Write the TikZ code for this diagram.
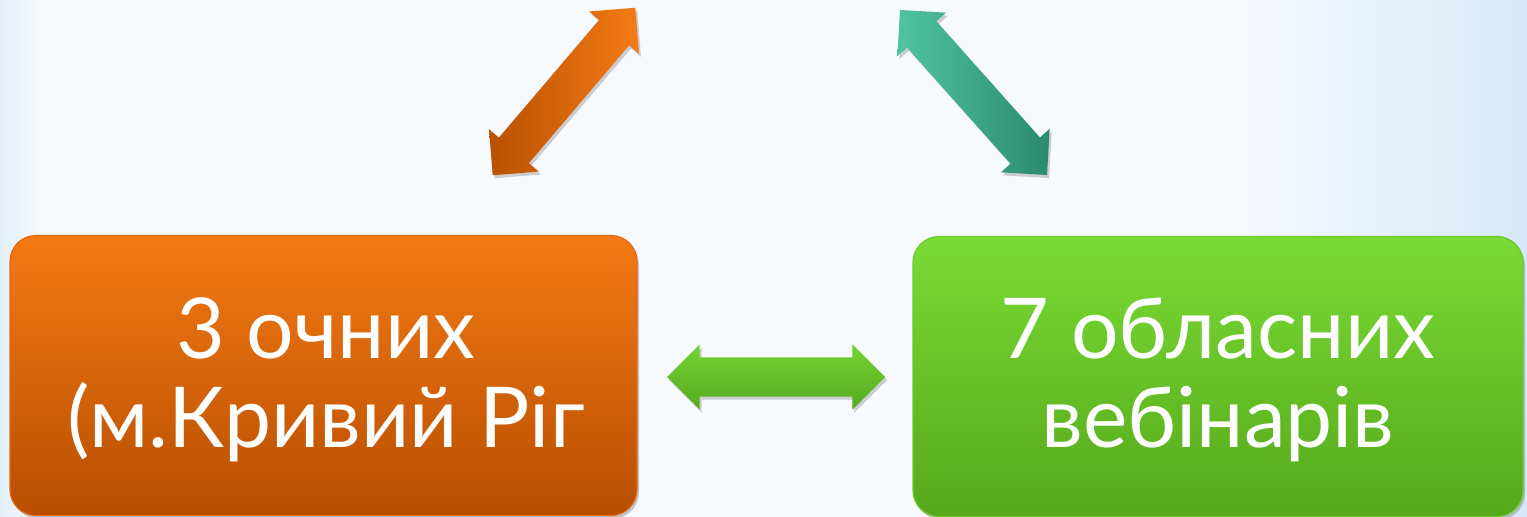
\documentclass[tikz,border=0pt]{standalone}
\usepackage{fontspec}
\setmainfont{Lato}
\usetikzlibrary{shapes.arrows,shadows}
\definecolor{bgA}{HTML}{F6F9FD}
\definecolor{bgB}{HTML}{D6E9F8}
\definecolor{orTop}{HTML}{F37A14}
\definecolor{orBot}{HTML}{B84E00}
\definecolor{orEdge}{HTML}{E06A10}
\definecolor{grTop}{HTML}{7ADB35}
\definecolor{grBot}{HTML}{55A81A}
\definecolor{grEdge}{HTML}{6CCB2A}
\definecolor{orLight}{HTML}{F47B16}
\definecolor{orDark}{HTML}{B95000}
\definecolor{tlLight}{HTML}{50C4A0}
\definecolor{tlDark}{HTML}{2A8A6E}
\definecolor{gaTop}{HTML}{74D432}
\definecolor{gaBot}{HTML}{55AA1E}
\tikzset{
  boxbase/.style={rounded corners=26pt, minimum width=627pt, minimum height=280pt,
    inner sep=0pt, line width=1.2pt,
    drop shadow={shadow xshift=2pt, shadow yshift=-3pt, opacity=0.35, fill=black!60}},
  orbox/.style={boxbase, draw=orEdge, top color=orTop, bottom color=orBot},
  grbox/.style={boxbase, draw=grEdge, top color=grTop, bottom color=grBot, minimum width=610pt},
  boxtext/.style={text=white, align=center, font=\fontsize{84}{89}\selectfont, inner sep=0pt},
  dblarrow/.style={double arrow, double arrow head extend=13pt, double arrow head indent=0pt,
    inner xsep=0pt, inner ysep=19.5pt, draw=none,
    drop shadow={shadow xshift=2pt, shadow yshift=-3pt, opacity=0.3, fill=black!60}},
}
\begin{document}
\begin{tikzpicture}[x=1pt,y=-1pt]
  % background
  \fill[bgA] (0,0) rectangle (1527,517);
  \shade[left color=bgA, right color=bgB] (1250,0) rectangle (1527,517);
  \shade[left color=bgB!60!bgA, right color=bgA] (0,0) rectangle (40,517);
  \useasboundingbox (0,0) rectangle (1527,517);

  % boxes
  \node[orbox] (oc) at (323.5,375.5) {};
  \node[grbox] (gr) at (1218,376.5) {};
  \node[boxtext, anchor=base] (octext) at (326,447) {3 очних\\(м.Кривий Ріг};
  \node[boxtext, anchor=base] (grtext) at (1218,447) {7 обласних\\вебінарів};

  % arrows
  \node[dblarrow, minimum height=218pt, top color=gaTop, bottom color=gaBot] (ha) at (776,377) {};
  \node[dblarrow, minimum height=220pt, rotate=49.6, left color=orDark, right color=orLight] (oa) at (564,91.5) {};
  \node[dblarrow, minimum height=221pt, rotate=131.7, left color=tlLight, right color=tlDark] (ta) at (973.5,92.5) {};
\end{tikzpicture}
\end{document}
